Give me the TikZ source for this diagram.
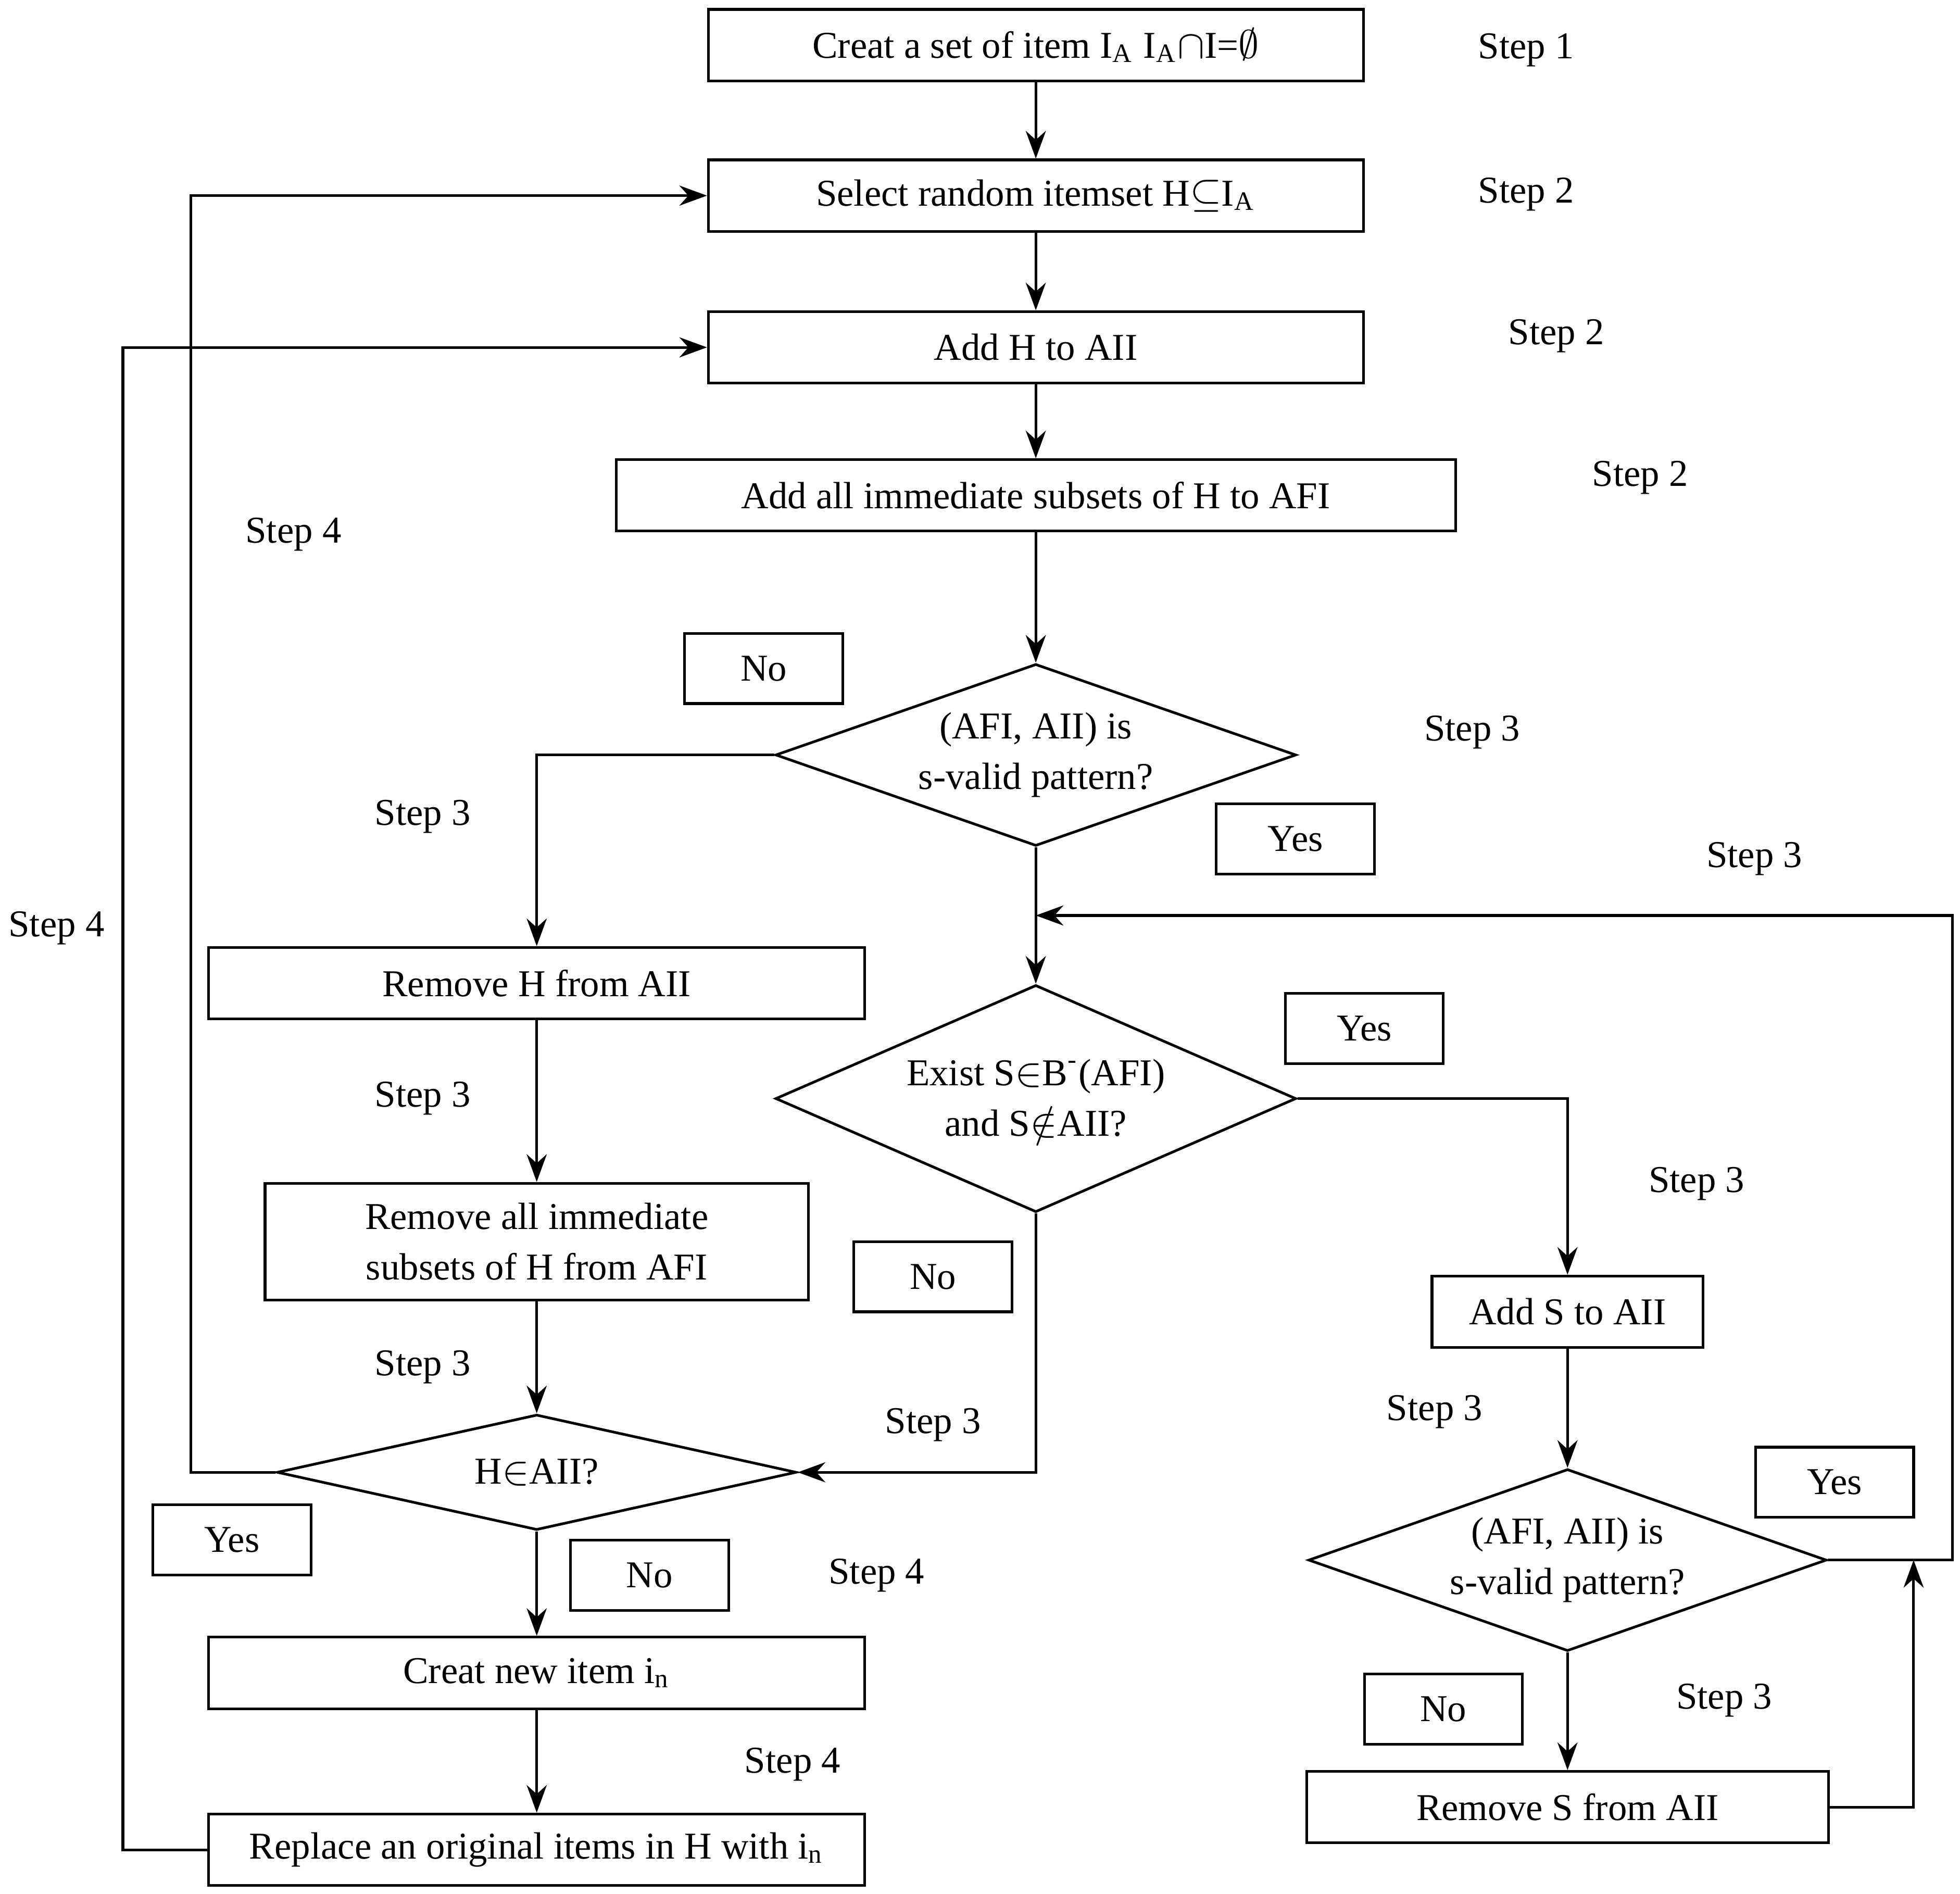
\documentclass[tikz,border=0pt]{standalone}
\usepackage{fontspec}
\setmainfont{Liberation Serif}
\usetikzlibrary{shapes.geometric,arrows.meta}
\tikzset{
  every node/.style={font=\fontsize{8.6}{11.5}\selectfont},
  process/.style={draw, semithick, rectangle, minimum height=0.57cm, inner sep=0pt, align=center},
  decision/.style={draw, semithick, diamond, inner sep=0pt},
  answer/.style={draw, semithick, rectangle, minimum width=1.26cm, minimum height=0.56cm, inner sep=0pt},
  flow/.style={semithick, -{Stealth[length=2.2mm,width=1.6mm]}},
  stepmark/.style={inner sep=0pt}
}
\begin{document}
\begin{tikzpicture}[x=0.01cm, y=-0.01cm]
  \useasboundingbox (0,0) rectangle (1563,1510);
  % process boxes
  \node[process, minimum width=5.22cm] (creat) at (826,36) {Creat a set of item I\textsubscript{A} I\textsubscript{A}$\cap$I=$\emptyset$};
  \node[process, minimum width=5.22cm] (select) at (826,156) {Select random itemset H$\subseteq$I\textsubscript{A}};
  \node[process, minimum width=5.22cm] (addH) at (826,277) {Add H to AII};
  \node[process, minimum width=6.69cm] (addall) at (826,395) {Add all immediate subsets of H to AFI};
  \node[process, minimum width=5.23cm] (removeH) at (428,784) {Remove H from AII};
  \node[process, minimum width=4.33cm, minimum height=0.93cm] (removeall) at (428,990) {Remove all immediate\\subsets of H from AFI};
  \node[process, minimum width=5.23cm] (creatnew) at (428,1334) {Creat new item i\textsubscript{n}};
  \node[process, minimum width=5.23cm] (replace) at (428,1475) {Replace an original items in H with i\textsubscript{n}};
  \node[process, minimum width=2.16cm] (addS) at (1250,1046) {Add S to AII};
  \node[process, minimum width=4.16cm] (removeS) at (1250,1441) {Remove S from AII};
  % decisions
  \node[decision, minimum width=4.15cm, minimum height=1.45cm,
    label={[align=center]center:(AFI, AII) is\\s-valid pattern?}] (valid) at (826,602) {};
  \node[decision, minimum width=4.15cm, minimum height=1.81cm,
    label={[align=center]center:Exist S$\in$B\textsuperscript{-}(AFI)\\and S$\notin$AII?}] (exist) at (826,876) {};
  \node[decision, minimum width=4.14cm, minimum height=0.92cm,
    label={center:H$\in$AII?}] (inAII) at (428,1174) {};
  \node[decision, minimum width=4.13cm, minimum height=1.45cm,
    label={[align=center]center:(AFI, AII) is\\s-valid pattern?}] (validS) at (1250,1244) {};
  % answers
  \node[answer] (no1) at (609,533) {No};
  \node[answer] (yes1) at (1033,669) {Yes};
  \node[answer] (yes2) at (1088,820) {Yes};
  \node[answer] (no2) at (744,1018) {No};
  \node[answer] (yes3) at (185,1228) {Yes};
  \node[answer] (no3) at (518,1256) {No};
  \node[answer] (yes4) at (1463,1182) {Yes};
  \node[answer] (no4) at (1151,1363) {No};
  % step marks
  \node[stepmark] (s1) at (1217,40) {Step 1};
  \node[stepmark] (s2) at (1217,155) {Step 2};
  \node[stepmark] (s3) at (1241,268) {Step 2};
  \node[stepmark] (s4) at (1308,381) {Step 2};
  \node[stepmark] (s5) at (234,426) {Step 4};
  \node[stepmark] (s6) at (1174,584) {Step 3};
  \node[stepmark] (s7) at (337,651) {Step 3};
  \node[stepmark] (s8) at (1399,685) {Step 3};
  \node[stepmark] (s9) at (45,740) {Step 4};
  \node[stepmark] (s10) at (337,876) {Step 3};
  \node[stepmark] (s11) at (1353,944) {Step 3};
  \node[stepmark] (s12) at (337,1090) {Step 3};
  \node[stepmark] (s13) at (744,1136) {Step 3};
  \node[stepmark] (s14) at (1144,1126) {Step 3};
  \node[stepmark] (s15) at (699,1256) {Step 4};
  \node[stepmark] (s16) at (1375,1356) {Step 3};
  \node[stepmark] (s17) at (632,1407) {Step 4};
  % joints
  \coordinate (loopin) at (826,730);
  \coordinate (backS) at (1526,1244);
  % connectors
  \draw[flow] (creat) -- (select);
  \draw[flow] (select) -- (addH);
  \draw[flow] (addH) -- (addall);
  \draw[flow] (addall) -- (valid);
  \draw[flow] (valid.west) -| (removeH.north);
  \draw[flow] (valid.south) -- (exist.north);
  \draw[flow] (removeH) -- (removeall);
  \draw[flow] (removeall) -- (inAII);
  \draw[flow] (inAII) -- (creatnew);
  \draw[flow] (creatnew) -- (replace);
  \draw[flow] (exist.east) -| (addS.north);
  \draw[flow] (addS) -- (validS);
  \draw[flow] (validS) -- (removeS);
  \draw[flow] (exist.south) |- (inAII.east);
  \draw[flow] (inAII.west) -- (152,1174) |- (select.west);
  \draw[flow] (replace.west) -- (98,1475) |- (addH.west);
  \draw[flow] (validS.east) -- (1557,1244) |- (loopin);
  \draw[flow] (removeS.east) -| (backS);
\end{tikzpicture}
\end{document}
